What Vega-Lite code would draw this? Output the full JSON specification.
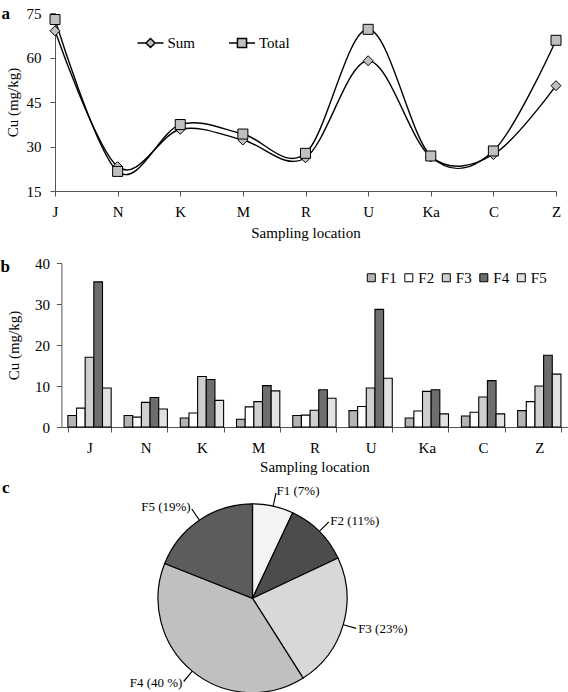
{
  "$schema": "https://vega.github.io/schema/vega-lite/v6.json",
  "background": "white",
  "padding": {"left": 0, "top": 4, "right": 0, "bottom": 0},
  "config": {
    "font": "Liberation Serif",
    "view": {"stroke": null},
    "axis": {
      "labelFont": "Liberation Serif", "titleFont": "Liberation Serif",
      "labelFontSize": 15, "titleFontSize": 15, "titleFontWeight": "normal",
      "labelColor": "black", "titleColor": "black",
      "domainColor": "#555", "tickColor": "#555", "grid": false, "labelFlush": false, "labelOverlap": false
    },
    "legend": {"labelFont": "Liberation Serif", "labelFontSize": 15, "labelColor": "black"},
    "title": {"font": "Liberation Serif", "fontSize": 17, "fontWeight": "bold", "color": "black", "anchor": "start", "baseline": "alphabetic"}
  },
  "datasets": {
    "cu": [
      {"site": "J", "series": "Sum", "cu": 69.0}, {"site": "J", "series": "Total", "cu": 72.8},
      {"site": "N", "series": "Sum", "cu": 23.2}, {"site": "N", "series": "Total", "cu": 21.6},
      {"site": "K", "series": "Sum", "cu": 35.8}, {"site": "K", "series": "Total", "cu": 37.4},
      {"site": "M", "series": "Sum", "cu": 32.2}, {"site": "M", "series": "Total", "cu": 34.2},
      {"site": "R", "series": "Sum", "cu": 26.2}, {"site": "R", "series": "Total", "cu": 27.7},
      {"site": "U", "series": "Sum", "cu": 58.9}, {"site": "U", "series": "Total", "cu": 69.5},
      {"site": "Ka", "series": "Sum", "cu": 26.5}, {"site": "Ka", "series": "Total", "cu": 26.8},
      {"site": "C", "series": "Sum", "cu": 27.3}, {"site": "C", "series": "Total", "cu": 28.5},
      {"site": "Z", "series": "Sum", "cu": 50.5}, {"site": "Z", "series": "Total", "cu": 65.8}
    ],
    "fractions": [
      {"site": "J", "F": "F1", "v": 2.8}, {"site": "J", "F": "F2", "v": 4.6}, {"site": "J", "F": "F3", "v": 17.0}, {"site": "J", "F": "F4", "v": 35.4}, {"site": "J", "F": "F5", "v": 9.5},
      {"site": "N", "F": "F1", "v": 2.8}, {"site": "N", "F": "F2", "v": 2.4}, {"site": "N", "F": "F3", "v": 6.0}, {"site": "N", "F": "F4", "v": 7.2}, {"site": "N", "F": "F5", "v": 4.4},
      {"site": "K", "F": "F1", "v": 2.2}, {"site": "K", "F": "F2", "v": 3.4}, {"site": "K", "F": "F3", "v": 12.3}, {"site": "K", "F": "F4", "v": 11.6}, {"site": "K", "F": "F5", "v": 6.5},
      {"site": "M", "F": "F1", "v": 1.9}, {"site": "M", "F": "F2", "v": 4.9}, {"site": "M", "F": "F3", "v": 6.2}, {"site": "M", "F": "F4", "v": 10.1}, {"site": "M", "F": "F5", "v": 8.8},
      {"site": "R", "F": "F1", "v": 2.8}, {"site": "R", "F": "F2", "v": 2.9}, {"site": "R", "F": "F3", "v": 4.1}, {"site": "R", "F": "F4", "v": 9.1}, {"site": "R", "F": "F5", "v": 7.0},
      {"site": "U", "F": "F1", "v": 4.0}, {"site": "U", "F": "F2", "v": 5.0}, {"site": "U", "F": "F3", "v": 9.5}, {"site": "U", "F": "F4", "v": 28.7}, {"site": "U", "F": "F5", "v": 11.9},
      {"site": "Ka", "F": "F1", "v": 2.2}, {"site": "Ka", "F": "F2", "v": 3.9}, {"site": "Ka", "F": "F3", "v": 8.7}, {"site": "Ka", "F": "F4", "v": 9.1}, {"site": "Ka", "F": "F5", "v": 3.2},
      {"site": "C", "F": "F1", "v": 2.7}, {"site": "C", "F": "F2", "v": 3.6}, {"site": "C", "F": "F3", "v": 7.3}, {"site": "C", "F": "F4", "v": 11.3}, {"site": "C", "F": "F5", "v": 3.2},
      {"site": "Z", "F": "F1", "v": 4.0}, {"site": "Z", "F": "F2", "v": 6.2}, {"site": "Z", "F": "F3", "v": 10.0}, {"site": "Z", "F": "F4", "v": 17.5}, {"site": "Z", "F": "F5", "v": 12.9}
    ],
    "pie": [
      {"frac": "F1", "pct": 7, "label": "F1 (7%)"},
      {"frac": "F2", "pct": 11, "label": "F2 (11%)"},
      {"frac": "F3", "pct": 23, "label": "F3 (23%)"},
      {"frac": "F4", "pct": 40, "label": "F4 (40 %)"},
      {"frac": "F5", "pct": 19, "label": "F5 (19%)"}
    ]
  },
  "resolve": {"scale": {"x": "independent", "y": "independent", "fill": "independent", "shape": "independent", "theta": "independent"}},
  "columns": 1,
  "spacing": 15,
  "concat": [
    {
      "width": 501,
      "height": 178,
      "title": {"text": "a", "frame": "bounds", "offset": -16.5, "dx": -4},
      "data": {"name": "cu"},
      "encoding": {
        "x": {"field": "site", "type": "ordinal", "sort": ["J", "N", "K", "M", "R", "U", "Ka", "C", "Z"],
              "scale": {"type": "point", "padding": 0},
              "axis": {"title": "Sampling location", "labelAngle": 0, "tickSize": 5, "labelPadding": 8.3, "titlePadding": 5.8}},
        "y": {"field": "cu", "type": "quantitative", "scale": {"domain": [15, 75], "nice": false, "zero": false},
              "axis": {"title": "Cu (mg/kg)", "values": [15, 30, 45, 60, 75], "tickSize": 5, "labelPadding": 9, "titlePadding": 5.5}}
      },
      "layer": [
        {
          "mark": {"type": "line", "interpolate": "cardinal", "color": "black", "strokeWidth": 1.4},
          "encoding": {"detail": {"field": "series"}}
        },
        {
          "transform": [{"filter": "datum.series === 'Sum'"}],
          "mark": {"type": "point", "shape": "diamond", "filled": true, "fill": "#c0c0c0", "stroke": "black", "strokeWidth": 1, "size": 100, "opacity": 1}
        },
        {
          "transform": [{"filter": "datum.series === 'Total'"}],
          "mark": {"type": "point", "shape": "square", "filled": true, "fill": "#c0c0c0", "stroke": "black", "strokeWidth": 1, "size": 100, "opacity": 1}
        },
        {
          "transform": [{"filter": "datum.series === 'legend-only'"}],
          "mark": {"type": "point", "filled": true, "fill": "#c0c0c0", "stroke": "black", "strokeWidth": 1.2, "size": 676, "opacity": 1},
          "encoding": {
            "shape": {"field": "series", "type": "nominal",
              "scale": {"domain": ["Sum", "Total"], "range": ["M-1,0L-0.35,0M0.35,0L1,0M0,-0.35L0.35,0L0,0.35L-0.35,0Z", "M-1,0L-0.35,0M0.35,0L1,0M-0.35,-0.35L0.35,-0.35L0.35,0.35L-0.35,0.35Z"]},
              "legend": {
                "title": null, "orient": "none", "direction": "horizontal",
                "legendX": 81.5, "legendY": 16, "padding": 0,
                "symbolSize": 676, "labelOffset": 3, "columnPadding": 30.5
              }}
          }
        }
      ]
    },
    {
      "columns": 1,
      "spacing": 3.8,
      "resolve": {"scale": {"x": "independent", "y": "independent", "fill": "independent", "theta": "independent"}},
      "concat": [
        {
          "width": 512.4,
          "height": 164,
          "title": {"text": "b", "frame": "bounds", "offset": -19.7, "dx": -6},
          "data": {"name": "fractions"},
          "mark": {"type": "bar", "stroke": "black", "strokeWidth": 1.1},
          "encoding": {
            "x": {"field": "site", "type": "nominal", "sort": ["J", "N", "K", "M", "R", "U", "Ka", "C", "Z"],
                  "scale": {"paddingInner": 0.23, "paddingOuter": 0.115, "range": [6.4, 512.4]},
                  "axis": {"title": "Sampling location", "labelAngle": 0, "tickBand": "extent", "tickSize": 5, "labelPadding": 8.5, "titlePadding": 4}},
            "xOffset": {"field": "F", "type": "nominal", "scale": {"paddingInner": 0, "paddingOuter": 0}},
            "y": {"field": "v", "type": "quantitative", "scale": {"domain": [0, 40], "nice": false},
                  "axis": {"title": "Cu (mg/kg)", "values": [0, 10, 20, 30, 40], "tickSize": 5, "labelPadding": 7, "titlePadding": 13, "offset": -6.4}},
            "fill": {"field": "F", "type": "nominal",
              "scale": {"domain": ["F1", "F2", "F3", "F4", "F5"], "range": ["#b4b4b4", "#ffffff", "#cfcfcf", "#6e6e6e", "#e2e2e2"]},
              "legend": {
                "title": null, "orient": "none", "direction": "horizontal",
                "legendX": 308.8, "legendY": 7, "padding": 0,
                "symbolType": "square", "symbolSize": 64, "labelOffset": 2, "columnPadding": 4.5,
                "symbolStrokeColor": "black", "symbolStrokeWidth": 1
              }}
          }
        },
        {
          "width": 395,
          "height": 189,
          "title": {"text": "c", "frame": "group", "offset": -12, "dx": -53},
          "data": {"name": "pie"},
          "transform": [
            {"stack": "pct", "groupby": [], "as": ["p0", "p1"], "sort": [{"field": "frac", "order": "ascending"}]},
            {"calculate": "(datum.p0 + datum.p1) / 2", "as": "pm"},
            {"calculate": "datum.pm - 0.09", "as": "pa"},
            {"calculate": "datum.pm + 0.09", "as": "pb"}
          ],
          "layer": [
            {
              "mark": {"type": "arc", "radius": 94.5, "stroke": "black", "strokeWidth": 1.2},
              "encoding": {
                "theta": {"field": "p0", "type": "quantitative", "stack": null, "scale": {"domain": [0, 100]}},
                "theta2": {"field": "p1"},
                "fill": {"field": "frac", "type": "nominal", "legend": null,
                  "scale": {"domain": ["F1", "F2", "F3", "F4", "F5"], "range": ["#f3f3f3", "#4c4c4c", "#d8d8d8", "#c0c0c0", "#5c5c5c"]}}
              }
            },
            {
              "mark": {"type": "arc", "radius": 108, "radius2": 94.5, "color": "black"},
              "encoding": {
                "theta": {"field": "pa", "type": "quantitative", "stack": null, "scale": {"domain": [0, 100]}},
                "theta2": {"field": "pb"}
              }
            },
            {
              "transform": [{"filter": "datum.pm < 50"}],
              "mark": {"type": "text", "radius": 110, "align": "left", "baseline": "middle", "fontSize": 13, "font": "Liberation Serif", "color": "black"},
              "encoding": {
                "theta": {"field": "pm", "type": "quantitative", "stack": null, "scale": {"domain": [0, 100]}},
                "text": {"field": "label"}
              }
            },
            {
              "transform": [{"filter": "datum.pm >= 50"}],
              "mark": {"type": "text", "radius": 110, "align": "right", "baseline": "middle", "fontSize": 13, "font": "Liberation Serif", "color": "black"},
              "encoding": {
                "theta": {"field": "pm", "type": "quantitative", "stack": null, "scale": {"domain": [0, 100]}},
                "text": {"field": "label"}
              }
            }
          ]
        }
      ]
    }
  ]
}
